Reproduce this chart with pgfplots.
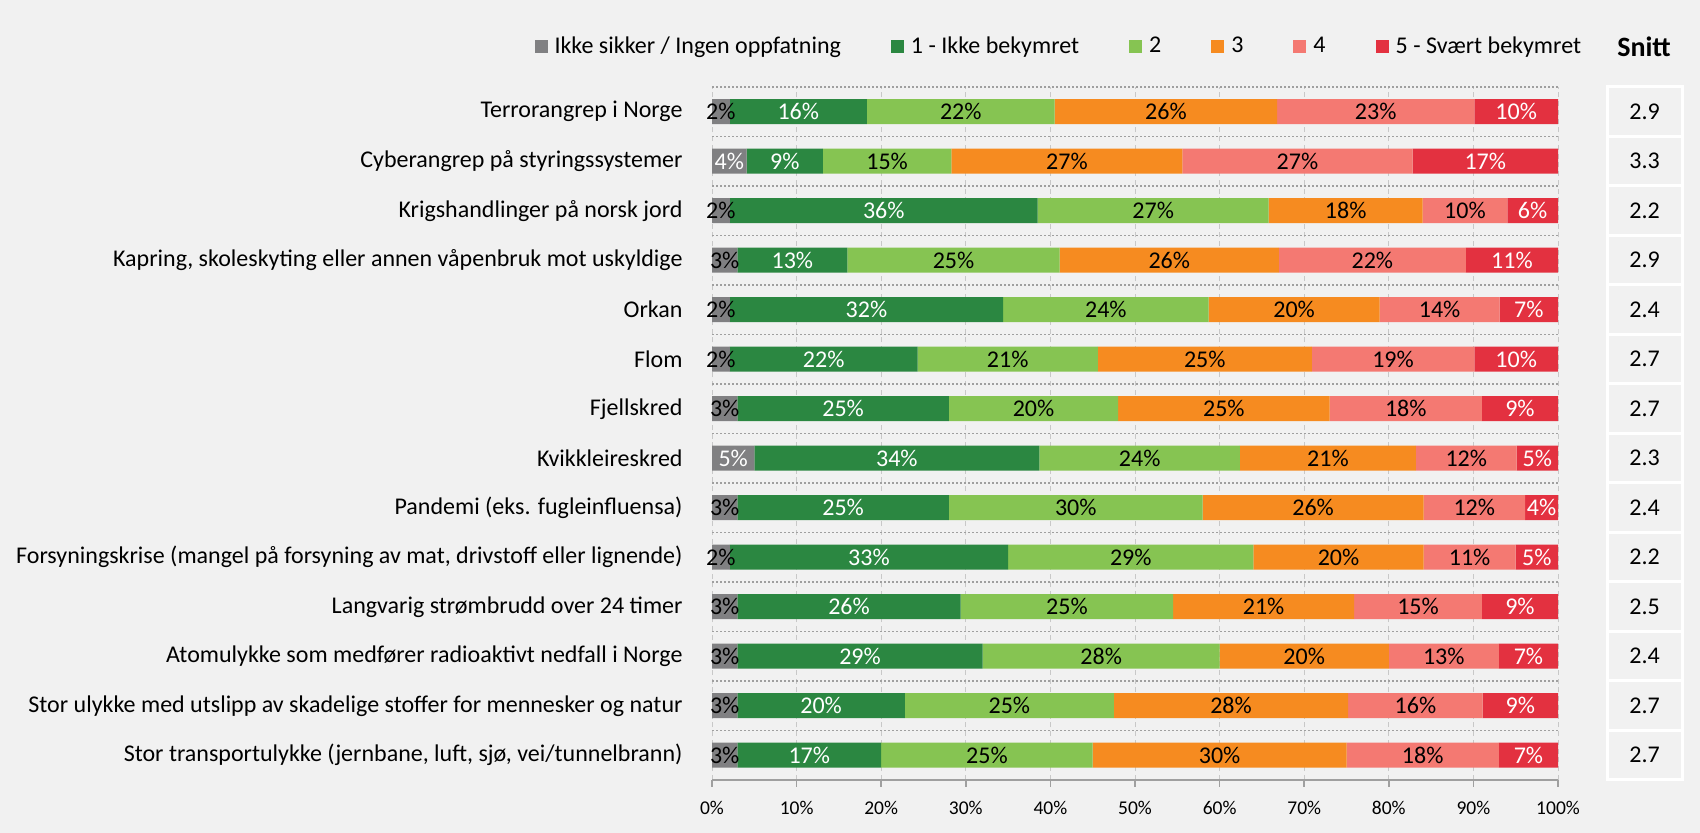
\documentclass[border=0pt]{standalone}
\usepackage{pgfplots}
\pgfplotsset{compat=1.18}
\usepackage{pgfplotstable}
\usepackage{fontspec}
\setmainfont{Carlito}
\definecolor{bgc}{RGB}{241,241,241}
\definecolor{cGray}{RGB}{128,128,130}
\definecolor{cDark}{RGB}{43,135,65}
\definecolor{cLight}{RGB}{134,196,82}
\definecolor{cOrange}{RGB}{246,139,32}
\definecolor{cPink}{RGB}{244,121,114}
\definecolor{cRed}{RGB}{227,49,64}
\definecolor{gridc}{RGB}{200,200,200}

% idx 13 = top row
\pgfplotstableread{
idx g c1 c2 c3 c4 c5 snitt
13 2.1 16.2 22.2 26.3 23.3 9.9 2.9
12 4.1 9.0 15.2 27.3 27.2 17.2 3.3
11 2.1 36.4 27.3 18.2 10.0 6.0 2.2
10 3.0 13.0 25.1 25.9 22.1 10.9 2.9
9 2.1 32.3 24.3 20.2 14.2 6.9 2.4
8 2.1 22.2 21.3 25.3 19.2 9.9 2.7
7 3.0 25.0 20.0 25.0 18.0 9.0 2.7
6 5.0 33.7 23.7 20.8 11.9 4.9 2.3
5 3.0 25.0 30.0 26.1 12.0 3.9 2.4
4 2.1 32.9 29.0 20.1 10.9 5.0 2.2
3 3.0 26.4 25.1 21.4 15.1 9.0 2.5
2 3.0 29.0 28.0 20.0 13.0 7.0 2.4
1 3.0 19.8 24.7 27.7 15.9 8.9 2.7
0 3.0 17.0 25.0 30.0 18.0 7.0 2.7
}\risk
% segment centres for the value labels
\pgfplotstablecreatecol[expr={\thisrow{g}/2}]{m0}\risk
\pgfplotstablecreatecol[expr={\thisrow{g}+\thisrow{c1}/2}]{m1}\risk
\pgfplotstablecreatecol[expr={\thisrow{g}+\thisrow{c1}+\thisrow{c2}/2}]{m2}\risk
\pgfplotstablecreatecol[expr={\thisrow{g}+\thisrow{c1}+\thisrow{c2}+\thisrow{c3}/2}]{m3}\risk
\pgfplotstablecreatecol[expr={\thisrow{g}+\thisrow{c1}+\thisrow{c2}+\thisrow{c3}+\thisrow{c4}/2}]{m4}\risk
\pgfplotstablecreatecol[expr={100-\thisrow{c5}/2}]{m5}\risk

\newcommand\pct{\pgfmathprintnumber[fixed,precision=0]{\pgfplotspointmeta}\%}
\newcommand\lbl{\fontsize{9.6}{11}\selectfont}
\pgfplotsset{
  riskframe/.style={
    at={(284.8pt,21.2pt)}, anchor=south west,
    scale only axis, width=338.4pt, height=277.2pt,
    xmin=0, xmax=100, ymin=-0.5, ymax=13.5,
    /pgf/number format/assume math mode=true},
  seglbl/.style={only marks, mark=none, point meta=explicit,
    nodes near coords={\pct}, nodes near coords align={center},
    every node near coord/.style={anchor=center, inner sep=0pt, font=\lbl, text=#1}},
}

\begin{document}
\begin{tikzpicture}[x=0.4pt,y=0.4pt]
\fill[bgc] (0,0) rectangle (1700,833);
% bars, grid, ticks, legend
\begin{axis}[
  riskframe,
  xbar stacked, bar width=10pt,
  axis x line*=bottom, axis y line*=left,
  x axis line style={draw=gray!75, line width=0.8pt},
  y axis line style={draw=none},
  xtick={0,10,...,100},
  xticklabel={\pgfmathprintnumber{\tick}\%},
  tick align=outside, major tick length=2.8pt,
  xtick style={draw=gray!75, line width=0.6pt},
  xticklabel style={font=\fontsize{7.8}{9}\selectfont, inner sep=0pt, yshift=-5.3pt},
  xmajorgrids,
  major x grid style={gridc, dash pattern=on 2pt off 1.5pt, line width=0.4pt},
  ytick={0,...,13}, ytick style={draw=none},
  yticklabel style={font=\lbl, anchor=east, inner sep=0pt, xshift=-8.8pt},
  yticklabels={
    {Stor transportulykke (jernbane, luft, sjø, vei/tunnelbrann)},
    {Stor ulykke med utslipp av skadelige stoffer for mennesker og natur},
    {Atomulykke som medfører radioaktivt nedfall i Norge},
    {Langvarig strømbrudd over 24 timer},
    {Forsyningskrise (mangel på forsyning av mat, drivstoff eller lignende)},
    {Pandemi (eks. fugleinfluensa)},
    {Kvikkleireskred},
    {Fjellskred},
    {Flom},
    {Orkan},
    {Kapring, skoleskyting eller annen våpenbruk mot uskyldige},
    {Krigshandlinger på norsk jord},
    {Cyberangrep på styringssystemer},
    {Terrorangrep i Norge}},
  extra y ticks={0.5,1.5,...,13.5},
  extra y tick labels={},
  extra y tick style={ymajorgrids=true, major tick length=0pt,
    major grid style={gray!75, dash pattern=on 0.8pt off 0.8pt, line width=0.5pt}},
  legend columns=6,
  legend style={at={(-0.2104,1.0577)}, anchor=west, draw=none, fill=none,
    inner sep=0pt, font=\lbl, nodes={inner sep=0pt},
    /tikz/every odd column/.append style={column sep=2.8pt},
    /tikz/every even column/.append style={column sep=20pt}},
  legend image code/.code={\fill[#1] (0pt,-2.6pt) rectangle (5.2pt,2.6pt);},
]
\addplot[fill=cGray, draw=none] table[x=g, y=idx]{\risk};
\addlegendentry{Ikke sikker / Ingen oppfatning}
\addplot[fill=cDark, draw=none] table[x=c1, y=idx]{\risk};
\addlegendentry{1 - Ikke bekymret}
\addplot[fill=cLight, draw=none] table[x=c2, y=idx]{\risk};
\addlegendentry{2}
\addplot[fill=cOrange, draw=none] table[x=c3, y=idx]{\risk};
\addlegendentry{3}
\addplot[fill=cPink, draw=none] table[x=c4, y=idx]{\risk};
\addlegendentry{4}
\addplot[fill=cRed, draw=none] table[x=c5, y=idx]{\risk};
\addlegendentry{5 - Svært bekymret}
\end{axis}

% value labels at the centre of each segment, on top of all bars
\begin{axis}[riskframe, hide axis, clip=false]
\addplot[seglbl=black] table[x=m0, y=idx, meta=g,
  restrict expr to domain={\thisrow{g}}{0:3.5}]{\risk};
\addplot[seglbl=white] table[x=m0, y=idx, meta=g,
  restrict expr to domain={\thisrow{g}}{3.5:100}]{\risk};
\addplot[seglbl=white] table[x=m1, y=idx, meta=c1]{\risk};
\addplot[seglbl=black] table[x=m2, y=idx, meta=c2]{\risk};
\addplot[seglbl=black] table[x=m3, y=idx, meta=c3]{\risk};
\addplot[seglbl=black] table[x=m4, y=idx, meta=c4]{\risk};
\addplot[seglbl=white] table[x=m5, y=idx, meta=c5]{\risk};
\end{axis}

% Snitt column
\begin{axis}[
  at={(642.8pt,21.2pt)}, anchor=south west,
  scale only axis, width=30pt, height=277.2pt,
  xmin=0, xmax=1, ymin=-0.5, ymax=13.5,
  hide axis, clip=false,
]
\addplot[xbar, bar width=19.8pt, fill=bgc, draw=white, line width=1.2pt,
  point meta=explicit symbolic, nodes near coords,
  nodes near coords align={center},
  every node near coord/.append style={anchor=center, inner sep=0pt,
    xshift=-15pt, font=\lbl}]
  table[x expr=1, y=idx, meta=snitt]{\risk};
\end{axis}
\node[font=\bfseries\fontsize{11.2}{13}\selectfont] at (1644,786) {Snitt};
\pgfresetboundingbox
\useasboundingbox (0,0) rectangle (1700,833);
\end{tikzpicture}
\end{document}
